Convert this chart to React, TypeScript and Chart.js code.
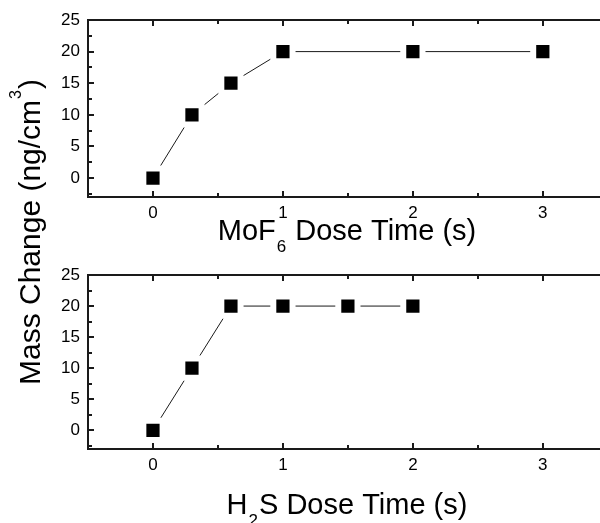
import React, { useEffect, useRef } from 'react';
import { Chart, registerables } from 'chart.js';

Chart.register(...registerables);

// ---- data ----
const mofDoseTime = [0, 0.3, 0.6, 1, 2, 3];
const mofMassChange = [0, 10, 15, 20, 20, 20];
const h2sDoseTime = [0, 0.3, 0.6, 1, 1.5, 2];
const h2sMassChange = [0, 10, 20, 20, 20, 20];

const xMajorTicks = [0, 1, 2, 3];
const xMinorTicks = [0.5, 1.5, 2.5];
const yMajorTicks = [0, 5, 10, 15, 20, 25];
const yMinorTicks = [-2.5, 2.5, 7.5, 12.5, 17.5, 22.5];
const xRange = [-0.5, 3.44];
const yRange = [-3, 25];

type Part = { text: string; shift?: number; size?: number };
const mofTitle: Part[] = [{ text: 'MoF' }, { text: '6', shift: 12, size: 17 }, { text: ' Dose Time (s)' }];
const h2sTitle: Part[] = [{ text: 'H' }, { text: '2', shift: 12, size: 17 }, { text: 'S Dose Time (s)' }];
const yTitle: Part[] = [{ text: 'Mass Change (ng/cm' }, { text: '3', shift: -19, size: 16 }, { text: ')' }];

const FONT = '"Liberation Sans", Arial, Helvetica, sans-serif';
const W = 600;
const H = 523;
const X_AXIS_H = 30;
const Y_AXIS_W = 88;

function drawParts(ctx: CanvasRenderingContext2D, parts: Part[], cx: number, baseline: number, size: number) {
  let total = 0;
  const widths = parts.map((p) => {
    ctx.font = `${p.size || size}px ${FONT}`;
    const w = ctx.measureText(p.text).width + (p.size ? 2 : 0);
    total += w;
    return w;
  });
  let x = cx - total / 2;
  ctx.textAlign = 'left';
  ctx.textBaseline = 'alphabetic';
  ctx.fillStyle = '#000';
  parts.forEach((p, i) => {
    ctx.font = `${p.size || size}px ${FONT}`;
    ctx.fillText(p.text, x + (p.size ? 1 : 0), baseline + (p.shift || 0));
    x += widths[i];
  });
}

function makePanelPlugin(xTitle: Part[], xTitleBaseline: number, withY: boolean) {
  return {
    id: 'panel',
    afterDraw(chart: any) {
      const { ctx, chartArea: a } = chart;
      const xs = chart.scales.x;
      const ys = chart.scales.y;
      ctx.save();
      ctx.strokeStyle = '#1a1a1a';
      ctx.lineWidth = 2;
      ctx.beginPath();
      ctx.moveTo(a.right, a.top);
      ctx.lineTo(a.left, a.top);
      ctx.lineTo(a.left, a.bottom);
      ctx.lineTo(a.right, a.bottom);
      ctx.stroke();

      ctx.beginPath();
      const vTick = (v: number, len: number) => {
        const p = Math.round(xs.getPixelForValue(v));
        ctx.moveTo(p, a.bottom);
        ctx.lineTo(p, a.bottom - len);
        ctx.moveTo(p, a.top);
        ctx.lineTo(p, a.top + len);
      };
      const hTick = (v: number, len: number) => {
        const p = Math.round(ys.getPixelForValue(v));
        ctx.moveTo(a.left, p);
        ctx.lineTo(a.left + len, p);
      };
      xMajorTicks.forEach((v) => vTick(v, 6));
      xMinorTicks.forEach((v) => vTick(v, 4));
      yMajorTicks.forEach((v) => hTick(v, 6));
      yMinorTicks.forEach((v) => hTick(v, 4));
      ctx.stroke();

      drawParts(ctx, xTitle, (a.left + a.right) / 2 + 3, xTitleBaseline, 29);

      if (withY) {
        ctx.save();
        ctx.translate(40, 232);
        ctx.rotate(-Math.PI / 2);
        drawParts(ctx, yTitle, 0, 0, 30);
        ctx.restore();
      }
      ctx.restore();
    },
  };
}

function makeConfig(
  xsData: number[],
  ysData: number[],
  padTop: number,
  padBottom: number,
  xTitle: Part[],
  xTitleBaseline: number,
  withY: boolean
): any {
  return {
    type: 'scatter',
    data: {
      datasets: [
        {
          data: xsData.map((x, i) => ({ x, y: ysData[i] })),
          showLine: true,
          borderColor: '#1a1a1a',
          borderWidth: 1,
          pointStyle: 'rect',
          pointRadius: 13.6,
          pointHoverRadius: 13.6,
          pointBorderWidth: 6,
          pointHoverBorderWidth: 6,
          pointBackgroundColor: '#000',
          pointBorderColor: '#fff',
          tension: 0,
          clip: false,
        },
      ],
    },
    options: {
      responsive: false,
      animation: false,
      events: [],
      layout: { autoPadding: false, padding: { left: 0, right: 0, top: padTop, bottom: padBottom } },
      plugins: {
        legend: { display: false },
        tooltip: { enabled: false },
      },
      scales: {
        x: {
          type: 'linear',
          position: 'bottom',
          min: xRange[0],
          max: xRange[1],
          grid: { display: false, drawTicks: false },
          border: { display: false },
          ticks: { color: '#000', font: { family: FONT, size: 17 }, padding: 6, includeBounds: false, maxRotation: 0 },
          afterBuildTicks: (s: any) => {
            s.ticks = xMajorTicks.map((value) => ({ value }));
          },
          afterFit: (s: any) => {
            s.height = X_AXIS_H;
            s.paddingLeft = 0;
            s.paddingRight = 0;
          },
        },
        y: {
          type: 'linear',
          min: yRange[0],
          max: yRange[1],
          grid: { display: false, drawTicks: false },
          border: { display: false },
          ticks: { color: '#000', font: { family: FONT, size: 17 }, padding: 8, includeBounds: false },
          afterBuildTicks: (s: any) => {
            s.ticks = yMajorTicks.map((value) => ({ value }));
          },
          afterFit: (s: any) => {
            s.width = Y_AXIS_W;
            s.paddingTop = 0;
            s.paddingBottom = 0;
          },
        },
      },
    },
    plugins: [makePanelPlugin(xTitle, xTitleBaseline, withY)],
  };
}

export default function App() {
  const topRef = useRef<HTMLCanvasElement>(null);
  const botRef = useRef<HTMLCanvasElement>(null);

  useEffect(() => {
    document.body.style.margin = '0';
    const top = new Chart(
      topRef.current as HTMLCanvasElement,
      makeConfig(mofDoseTime, mofMassChange, 20, H - 197 - X_AXIS_H, mofTitle, 240, true)
    );
    const bot = new Chart(
      botRef.current as HTMLCanvasElement,
      makeConfig(h2sDoseTime, h2sMassChange, 275, H - 449 - X_AXIS_H, h2sTitle, 514, false)
    );
    return () => {
      top.destroy();
      bot.destroy();
    };
  }, []);

  const cs: React.CSSProperties = { position: 'absolute', left: 0, top: 0, width: W, height: H, display: 'block' };
  return (
    <div style={{ position: 'relative', width: W, height: H, background: '#fff', overflow: 'hidden' }}>
      <canvas ref={topRef} width={W} height={H} style={cs} />
      <canvas ref={botRef} width={W} height={H} style={cs} />
    </div>
  );
}
